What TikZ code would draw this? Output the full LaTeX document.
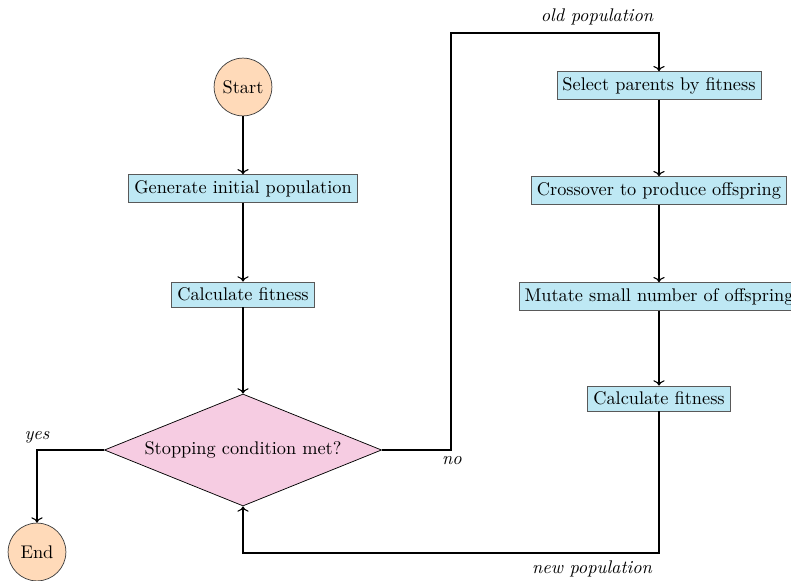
\documentclass[tikz,border=0pt]{standalone}
\usetikzlibrary{shapes.geometric,arrows.meta}
\definecolor{peach}{RGB}{255,218,185}
\definecolor{boxblue}{RGB}{190,232,244}
\definecolor{diapink}{RGB}{246,204,226}
\begin{document}
\begin{tikzpicture}[x=0.0192cm,y=-0.0192cm,
  term/.style={circle,draw=black!75,fill=peach,minimum size=1.11cm,inner sep=0pt},
  proc/.style={rectangle,draw=black!65,fill=boxblue,minimum height=0.48cm,inner sep=3pt},
  dec/.style={diamond,aspect=2.47,draw=black,fill=diapink,minimum width=5.32cm,minimum height=2.15cm,inner sep=0pt},
  conn/.style={semithick,->},
  lab/.style={font=\itshape}]
\useasboundingbox (0,0) rectangle (791,581);
\node[term] (start) at (243,87) {Start};
\node[proc] (gen) at (243,188.5) {Generate initial population};
\node[proc] (calc1) at (243,294.5) {Calculate fitness};
\node[dec] (stop) at (243,450) {Stopping condition met?};
\node[term] (end) at (37,552) {End};
\node[proc] (sel) at (659,85.5) {Select parents by fitness};
\node[proc] (cross) at (659,190.5) {Crossover to produce offspring};
\node[proc] (mut) at (659,296.5) {Mutate small number of offspring};
\node[proc] (calc2) at (659,398.5) {Calculate fitness};
\coordinate (yc) at (37,450);
\coordinate (n1) at (451,450);
\coordinate (n2) at (451,33);
\coordinate (n3) at (659,33);
\coordinate (p1) at (659,553);
\coordinate (p2) at (243,553);
\draw[conn] (start) -- (gen);
\draw[conn] (gen) -- (calc1);
\draw[conn] (calc1) -- (stop);
\draw[conn] (stop.west) -- (yc) -- (end);
\draw[conn] (stop.east) -- (n1) -- (n2) -- (n3) -- (sel);
\draw[conn] (sel) -- (cross);
\draw[conn] (cross) -- (mut);
\draw[conn] (mut) -- (calc2);
\draw[conn] (calc2) -- (p1) -- (p2) -- (stop.south);
\node[lab] (yes) at (37,437) {yes};
\node[lab] (no) at (452,461) {no};
\node[lab] (old) at (597,17) {old population};
\node[lab] (new) at (592,569) {new population};
\end{tikzpicture}
\end{document}
